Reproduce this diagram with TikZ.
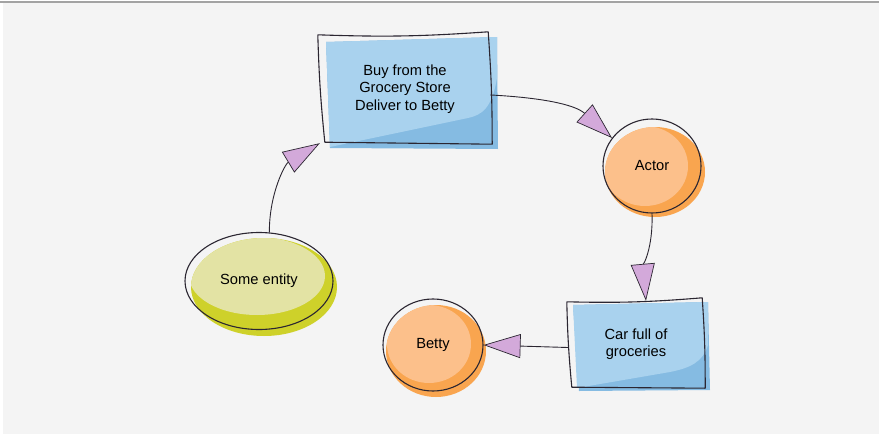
\documentclass[tikz,border=0pt]{standalone}
\usepackage{fontspec}
\setmainfont{Liberation Sans}
\usetikzlibrary{arrows.meta,shapes.geometric}
\definecolor{ink}{HTML}{2B2631}
\definecolor{canvas}{HTML}{F4F4F4}
\definecolor{topline}{HTML}{A3A3A3}
\definecolor{bluelight}{HTML}{A9D2EE}
\definecolor{bluedark}{HTML}{85BBE2}
\definecolor{orangelight}{HTML}{FCC08B}
\definecolor{orangedark}{HTML}{F9A54F}
\definecolor{olivelight}{HTML}{E3E3A4}
\definecolor{olivedark}{HTML}{CED12A}
\definecolor{tipfill}{HTML}{D3A9DA}
\tikzset{
  sketchfont/.style={font=\fontsize{14.7}{17.5}\selectfont, text=black},
  blob/.style={ellipse, draw=ink, line width=1.1pt, inner sep=0pt, sketchfont},
  card/.style={rectangle, inner sep=0pt, align=center, sketchfont},
  outline/.style={draw=ink, line width=1.1pt, line cap=round, line join=round},
  conn/.style={draw=ink, line width=0.9pt,
               -{Triangle[length=37pt, width=24pt, fill=tipfill, line width=0.7pt]}},
}

\begin{document}
\begin{tikzpicture}[x=1pt, y=1pt]
    \useasboundingbox (0,0) rectangle (879,-434);
    \fill[canvas] (3,-3) rectangle (879,-434);
    \draw[topline, line width=1.2pt] (0,-2) -- (879,-2);

    \fill[bluedark] (326,-42) -- (497,-37) -- (498,-149) -- (330,-148) -- cycle;
    \fill[bluelight] (326,-42) -- (497,-37) -- (497,-78) .. controls (492,-108) and (482,-115) .. (468,-118) -- (330,-147) -- cycle;
    \fill[bluedark] (573,-305) -- (708,-302) -- (710,-390) -- (579,-391) -- cycle;
    \fill[bluelight] (573,-305) -- (708,-302) -- (708,-345) .. controls (703,-362) and (690,-368) .. (670,-372) -- (577,-388) -- cycle;

    \fill[olivedark] (264,-287) ellipse[x radius=73, y radius=49];
    \begin{scope}
      \clip (264,-287) ellipse[x radius=73, y radius=49];
      \fill[olivelight] (257,-276) ellipse[x radius=68, y radius=39];
    \end{scope}
    \fill[orangedark] (655,-172) ellipse[x radius=50, y radius=45];
    \begin{scope}
      \clip (655,-172) ellipse[x radius=50, y radius=45];
      \fill[orangelight] (645,-166) ellipse[x radius=43, y radius=40];
    \end{scope}
    \fill[orangedark] (436,-351) ellipse[x radius=50, y radius=46];
    \begin{scope}
      \clip (436,-351) ellipse[x radius=50, y radius=46];
      \fill[orangelight] (429,-344) ellipse[x radius=42, y radius=39];
    \end{scope}

    \node[blob, minimum width=148pt, minimum height=97pt] (entity) at (259,-281) {Some entity};
    \node[blob, minimum width=98pt, minimum height=94pt] (actor) at (652,-166) {Actor};
    \node[blob, minimum width=100pt, minimum height=92pt] (betty) at (433,-345) {Betty};
    \node[card, minimum width=170pt, minimum height=108pt] (buy) at (405,-89) {Buy from the\\Grocery Store\\Deliver to Betty};
    \node[card, minimum width=134pt, minimum height=86pt] (car) at (636,-344) {Car full of\\groceries};

    \draw[outline] ([shift={(-2,0)}]buy.north west) to[bend right=3] ([shift={(-2,3)}]buy.north east)
      to[bend left=2] ([shift={(2,-1)}]buy.south east) -- ([shift={(5,1)}]buy.south west)
      to[bend left=2] ([shift={(-2,0)}]buy.north west);
    \draw[outline] ([shift={(-2,-1)}]car.north west) to[bend right=3] ([shift={(-1,3)}]car.north east)
      to[bend left=2] ([shift={(2,-1)}]car.south east) -- ([shift={(3,0)}]car.south west)
      to[bend left=2] ([shift={(-2,-1)}]car.north west);

    \draw[conn] (entity.78) to[out=90, in=211] (buy.south west);
    \draw[conn] (buy.-4) to[out=-3, in=138] (actor.145);
    \draw[conn] (actor.south) to[out=-88, in=95] (car.77);
    \draw[conn] (car.183) -- (betty.east);
  \end{tikzpicture}
\end{document}
